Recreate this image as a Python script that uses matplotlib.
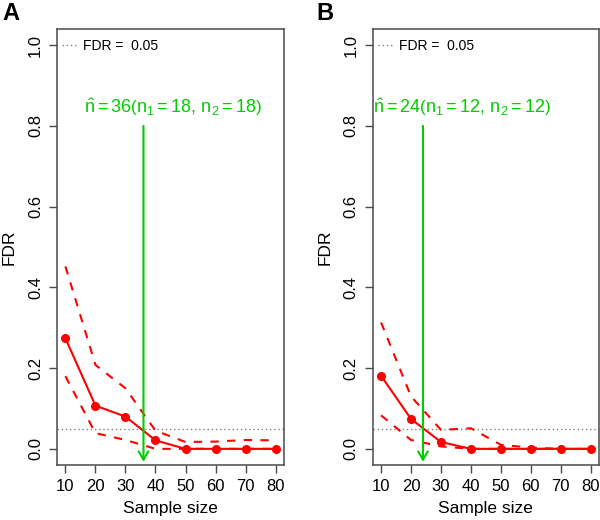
import matplotlib.pyplot as plt
import numpy as np

plt.rcParams['font.family'] = ['Liberation Sans', 'DejaVu Sans']
plt.rcParams['mathtext.fontset'] = 'custom'
plt.rcParams['mathtext.rm'] = 'Liberation Sans'
plt.rcParams['mathtext.it'] = 'Liberation Sans'
plt.rcParams['mathtext.bf'] = 'Liberation Sans:bold'

# data
sizes = [10, 20, 30, 40, 50, 60, 70, 80]

fdr_a = [0.274, 0.107, 0.080, 0.021, 0.0, 0.0, 0.0, 0.0]
upper_a = [0.452, 0.208, 0.150, 0.045, 0.017, 0.018, 0.022, 0.021]
lower_a = [0.180, 0.039, 0.022, 0.0, 0.0, 0.0, 0.0, 0.0]

fdr_b = [0.181, 0.074, 0.017, 0.0, 0.0, 0.0, 0.0, 0.0]
upper_b = [0.313, 0.130, 0.047, 0.051, 0.010, 0.003, 0.0, 0.0]
lower_b = [0.083, 0.022, 0.006, 0.0, 0.0, 0.0, 0.0, 0.0]

threshold = 0.05
n_hat = [36, 24]
n_groups = [(18, 18), (12, 12)]
text_x = [45.7, 36.9]
panel_names = ['A', 'B']

red = '#FF0000'
green = '#00CD00'
box = '#4a4a4a'

fig = plt.figure(figsize=(6, 5.2), dpi=100)
ax_a = fig.add_axes([57 / 600, 55 / 520, 227 / 600, 436 / 520])
ax_b = fig.add_axes([372.7 / 600, 55 / 520, 226.3 / 600, 436 / 520])

panels = [(ax_a, fdr_a, upper_a, lower_a), (ax_b, fdr_b, upper_b, lower_b)]

for i, (ax, fdr, up, lo) in enumerate(panels):
    ax.axhline(threshold, color='#808080', linestyle=(0, (1, 2)), linewidth=1.0,
               label='FDR =  0.05')
    ax.plot(sizes, up, color=red, linestyle=(0, (4, 4)), linewidth=1.5)
    ax.plot(sizes, lo, color=red, linestyle=(0, (4, 4)), linewidth=1.5)
    ax.plot(sizes, fdr, color=red, linewidth=1.5, marker='o', markersize=5.5)

    # arrow at estimated sample size
    ax.annotate('', xy=(n_hat[i], -0.032), xytext=(n_hat[i], 0.8),
                arrowprops=dict(arrowstyle='->,head_length=0.6,head_width=0.35',
                                color=green, linewidth=1.5, shrinkA=0, shrinkB=0))
    n1, n2 = n_groups[i]
    ax.text(text_x[i], 0.846,
            r'$\hat{\mathrm{n}} = %d\left(\mathrm{n}_1 = %d,\,\mathrm{n}_2 = %d\right)$' % (n_hat[i], n1, n2),
            color=green, fontsize=13, ha='center', va='center')

    ax.set_xlim(7.2, 82.8)
    ax.set_ylim(-0.04, 1.04)
    ax.set_xticks(sizes)
    ax.set_yticks(np.arange(0, 1.01, 0.2))
    ax.set_yticklabels(['%.1f' % v for v in np.arange(0, 1.01, 0.2)],
                       rotation=90, va='center')
    ax.tick_params(direction='out', length=6, width=1.0, color=box,
                   labelsize=12, pad=4)
    for s in ax.spines.values():
        s.set_color(box)
        s.set_linewidth(1.1)

    ax.set_xlabel('Sample size', fontsize=12.5)
    ax.set_ylabel('FDR', fontsize=12.5)
    ax.xaxis.set_label_coords(0.5, -44 / 436)
    ax.xaxis.label.set_va('center')
    ax.yaxis.set_label_coords(-48 / 227, 0.5)
    ax.yaxis.label.set_va('center')

    leg = ax.legend(loc='center left', bbox_to_anchor=(5 / 227, 0.961),
                    frameon=False, handlelength=1.0, handletextpad=0.5,
                    borderpad=0, borderaxespad=0, fontsize=10)

    fig.text(ax.get_position().x0 - (55 if i == 0 else 56) / 600, 1 - 14 / 520,
             panel_names[i], fontsize=17, fontweight='bold', va='center', ha='left')

fig.savefig('out.png', dpi=100)
